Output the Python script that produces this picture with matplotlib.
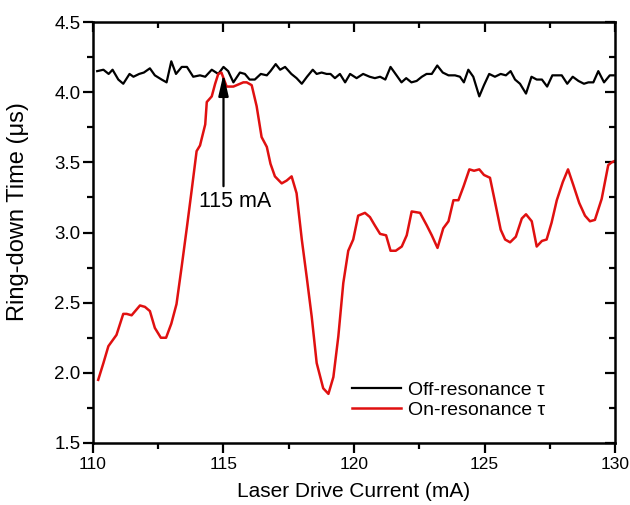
import matplotlib
matplotlib.use("Agg")
import matplotlib.pyplot as plt
from matplotlib.ticker import MultipleLocator

plt.rcParams["font.family"] = ["Liberation Sans", "DejaVu Sans"]

# off-resonance ring-down (black)
off_x = [110.16, 110.4, 110.6, 110.75, 110.97, 111.16, 111.4, 111.55, 111.77, 111.95,
         112.18, 112.37, 112.63, 112.82, 113.0, 113.18, 113.4, 113.6, 113.84, 114.1,
         114.3, 114.55, 114.8, 115.0, 115.18, 115.38, 115.63, 115.82, 116.0, 116.2,
         116.43, 116.66, 116.8, 117.0, 117.17, 117.36, 117.6, 117.8, 118.0, 118.2,
         118.42, 118.57, 118.76, 118.95, 119.1, 119.27, 119.46, 119.66, 119.85, 120.1,
         120.35, 120.6, 120.8, 121.0, 121.2, 121.4, 121.63, 121.82, 122.0, 122.2,
         122.4, 122.6, 122.78, 122.98, 123.19, 123.4, 123.62, 123.87, 124.06, 124.21,
         124.38, 124.57, 124.8, 124.98, 125.18, 125.4, 125.62, 125.82, 126.0, 126.17,
         126.36, 126.59, 126.8, 127.0, 127.2, 127.4, 127.6, 127.8, 127.96, 128.17,
         128.38, 128.6, 128.81, 128.98, 129.17, 129.36, 129.58, 129.8, 129.95]
off_tau = [4.15, 4.16, 4.13, 4.16, 4.09, 4.06, 4.13, 4.11, 4.13, 4.14,
           4.17, 4.12, 4.09, 4.07, 4.22, 4.13, 4.18, 4.18, 4.11, 4.12,
           4.11, 4.16, 4.13, 4.18, 4.15, 4.07, 4.14, 4.13, 4.09, 4.09,
           4.13, 4.12, 4.15, 4.20, 4.16, 4.18, 4.13, 4.10, 4.06, 4.11,
           4.16, 4.13, 4.14, 4.13, 4.13, 4.10, 4.13, 4.07, 4.13, 4.10,
           4.13, 4.11, 4.10, 4.11, 4.09, 4.18, 4.12, 4.07, 4.10, 4.07,
           4.08, 4.11, 4.13, 4.13, 4.19, 4.14, 4.12, 4.12, 4.11, 4.07,
           4.16, 4.11, 3.97, 4.05, 4.13, 4.11, 4.13, 4.12, 4.15, 4.09,
           4.06, 3.99, 4.11, 4.09, 4.09, 4.04, 4.12, 4.12, 4.12, 4.06,
           4.11, 4.08, 4.06, 4.07, 4.07, 4.15, 4.07, 4.12, 4.12]

# on-resonance ring-down (red)
on_x = [110.2, 110.4, 110.59, 110.9, 111.16, 111.29, 111.48, 111.8, 111.99, 112.18,
        112.37, 112.6, 112.8, 113.0, 113.2, 113.4, 113.6, 113.78, 113.97, 114.1,
        114.3, 114.36, 114.55, 114.68, 114.8, 114.92, 115.12, 115.38, 115.76, 115.89,
        116.08, 116.27, 116.46, 116.66, 116.8, 116.97, 117.23, 117.42, 117.61, 117.8,
        118.0, 118.19, 118.38, 118.57, 118.82, 119.02, 119.21, 119.4, 119.59, 119.78,
        119.97, 120.16, 120.42, 120.61, 120.8, 121.0, 121.23, 121.4, 121.6, 121.83,
        122.02, 122.21, 122.53, 122.79, 122.98, 123.2, 123.42, 123.62, 123.81, 124.0,
        124.2, 124.42, 124.6, 124.8, 124.98, 125.21, 125.4, 125.62, 125.79, 125.98,
        126.2, 126.43, 126.59, 126.81, 127.0, 127.2, 127.38, 127.57, 127.77, 128.0,
        128.2, 128.4, 128.63, 128.85, 129.04, 129.23, 129.49, 129.74, 129.87, 130.0]
on_tau = [1.95, 2.07, 2.19, 2.27, 2.42, 2.42, 2.41, 2.48, 2.47, 2.44,
          2.32, 2.25, 2.25, 2.35, 2.49, 2.76, 3.04, 3.30, 3.58, 3.62,
          3.77, 3.93, 3.97, 4.06, 4.13, 4.14, 4.04, 4.04, 4.07, 4.07,
          4.05, 3.90, 3.68, 3.61, 3.49, 3.40, 3.35, 3.37, 3.40, 3.28,
          2.95, 2.68, 2.40, 2.07, 1.89, 1.85, 1.97, 2.26, 2.64, 2.87,
          2.95, 3.12, 3.14, 3.11, 3.05, 2.99, 2.98, 2.87, 2.87, 2.90,
          2.98, 3.15, 3.14, 3.05, 2.98, 2.89, 3.03, 3.08, 3.23, 3.23,
          3.33, 3.45, 3.44, 3.45, 3.41, 3.39, 3.22, 3.02, 2.95, 2.93,
          2.97, 3.10, 3.13, 3.08, 2.90, 2.94, 2.95, 3.07, 3.23, 3.36,
          3.45, 3.34, 3.21, 3.12, 3.08, 3.09, 3.24, 3.48, 3.50, 3.51]

fig = plt.figure(figsize=(6.3, 5.05), dpi=100)
ax = fig.add_axes([0.1476, 0.1228, 0.8286, 0.8336])

ax.plot(off_x, off_tau, color="black", lw=1.6, label="Off-resonance \u03c4")
ax.plot(on_x, on_tau, color="#e01010", lw=1.8, label="On-resonance \u03c4")

ax.annotate("", xy=(115, 4.13), xytext=(115, 3.33),
            arrowprops=dict(arrowstyle="-|>,head_length=1.3,head_width=0.3",
                            mutation_scale=10, color="black", lw=1.6,
                            shrinkA=0, shrinkB=0))
ax.text(115.44, 3.22, "115 mA", ha="center", va="center", fontsize=15.5)

ax.set_xlim(110, 130)
ax.set_ylim(1.5, 4.5)
ax.xaxis.set_major_locator(MultipleLocator(5))
ax.xaxis.set_minor_locator(MultipleLocator(2.5))
ax.yaxis.set_major_locator(MultipleLocator(0.5))
ax.yaxis.set_minor_locator(MultipleLocator(0.25))
ax.yaxis.set_major_formatter(lambda v, p: f"{v:.1f}")

for s in ax.spines.values():
    s.set_linewidth(1.8)
ax.tick_params(which="both", direction="out", width=1.6, top=True, right=True)
ax.tick_params(which="major", length=7)
ax.tick_params(which="minor", length=4)
ax.tick_params(axis="x", labelsize=12.5, pad=3)
ax.tick_params(axis="y", labelsize=13.5, pad=2)
# ticks on right/top point inward
for t in ax.yaxis.get_major_ticks() + ax.yaxis.get_minor_ticks():
    t.tick2line.set_marker(matplotlib.lines.TICKLEFT)
for t in ax.xaxis.get_major_ticks() + ax.xaxis.get_minor_ticks():
    t.tick2line.set_marker(matplotlib.lines.TICKDOWN)

ax.set_xlabel("Laser Drive Current (mA)", fontsize=15, labelpad=7)
ax.set_ylabel("Ring-down Time (\u03bcs)", fontsize=17, va="center")
ax.yaxis.set_label_coords(-0.144, 0.55)

ax.legend(loc="lower left", bbox_to_anchor=(0.497, 0.058), frameon=False,
          fontsize=14, handlelength=2.5, handletextpad=0.35, borderpad=0,
          borderaxespad=0, labelspacing=0.1)

fig.savefig("out.png", dpi=100)
